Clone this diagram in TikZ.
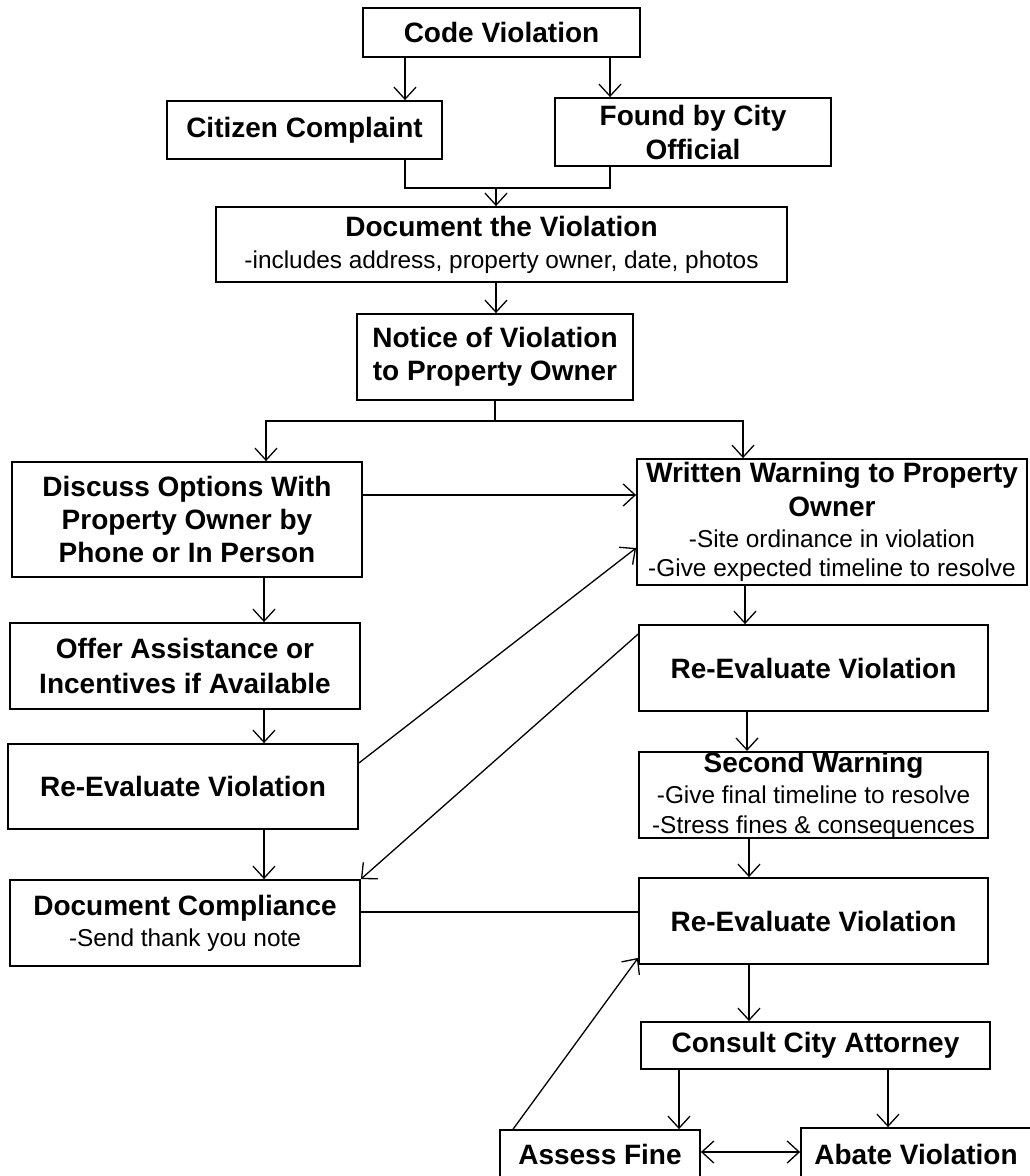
\documentclass[tikz,border=0pt]{standalone}
\usepackage{fontspec}
\setmainfont{Liberation Sans}
\usetikzlibrary{arrows.meta,calc}
\newcommand\bt{\fontsize{28}{34}\selectfont\bfseries}
\newcommand\rt{\fontsize{24.4}{28}\selectfont\mdseries}
\begin{document}
\begin{tikzpicture}[x=1pt,y=-1pt,
  box/.style={draw, line width=1.8pt, fill=white, inner sep=0pt, align=center, font=\bt},
  conn/.style={line width=1.3pt},
  arr/.style={line width=1.3pt, -{Straight Barb[length=12pt,width=22pt]}},
  dbl/.style={line width=1.3pt, {Straight Barb[length=12pt,width=22pt]}-{Straight Barb[length=12pt,width=22pt]}}]
\useasboundingbox (0,0) rectangle (1030,1176);
\clip (0,0) rectangle (1030,1176);
\fill[white] (0,0) rectangle (1030,1176);

\node[box, minimum width=277pt, minimum height=49pt] (cv) at (501.5,32.5) {Code Violation};
\node[box, minimum width=275pt, minimum height=58pt] (cc) at (304.5,130) {Citizen Complaint};
\node[box, minimum width=276pt, minimum height=68pt] (fo) at (693,132) {Found by City\\[0pt]Official};
\node[box, minimum width=571pt, minimum height=75pt] (dv) at (501.5,244.5) {Document the Violation\\[-2pt]{\rt -includes address, property owner, date, photos}};
\node[box, minimum width=276pt, minimum height=86pt] (nv) at (495,357) {Notice of Violation\\[-1pt]to Property Owner};
\node[box, minimum width=350pt, minimum height=115pt] (dis) at (187,519.5) {Discuss Options With\\[-1pt]Property Owner by\\[-1pt]Phone or In Person};
\node[box, minimum width=390pt, minimum height=126pt] (ww) at (832,522) {Written Warning to Property\\[0pt]Owner\\[-3pt]{\rt -Site ordinance in violation}\\[-5pt]{\rt -Give expected timeline to resolve}};
\node[box, minimum width=350pt, minimum height=86pt] (oa) at (185,666) {Offer Assistance or\\[1pt]Incentives if Available};
\node[box, minimum width=350pt, minimum height=85pt] (re1) at (183,786.5) {Re-Evaluate Violation};
\node[box, minimum width=350pt, minimum height=86pt] (dc) at (185,923) {Document Compliance\\[-3pt]{\rt -Send thank you note}};
\node[box, minimum width=349pt, minimum height=86pt] (re2) at (813.5,668) {Re-Evaluate Violation};
\node[box, minimum width=349pt, minimum height=86pt] (sw) at (813.5,795) {Second Warning\\[-3pt]{\rt -Give final timeline to resolve}\\[-4pt]{\rt -Stress fines \& consequences}};
\node[box, minimum width=349pt, minimum height=86pt] (re3) at (813.5,921) {Re-Evaluate Violation};
\node[box, minimum width=349pt, minimum height=47pt] (ca) at (815.5,1045.5) {Consult City Attorney};
\node[box, minimum width=200pt, minimum height=48pt] (af) at (600,1154) {Assess Fine};
\node[box, minimum width=230pt, minimum height=52pt] (ab) at (916,1154) {Abate Violation};

\coordinate (ca1) at (405,0);
\coordinate (ca2) at (610,0);
\coordinate (m1) at (496,188);
\coordinate (m2) at (495,421);
\coordinate (ml) at (266,421);
\coordinate (mr) at (743,421);
\coordinate (lc) at (264,0);
\coordinate (rc1) at (745,0);
\coordinate (rc2) at (747,0);
\coordinate (rc3) at (749,0);
\coordinate (c1) at (679,0);
\coordinate (c2) at (888,0);

% top section
\draw[arr] (cv.south -| ca1) -- (cc.north -| ca1);
\draw[arr] (cv.south -| ca2) -- (fo.north -| ca2);
\draw[conn] (cc.south -| ca1) |- (m1) -| (fo.south -| ca2);
\draw[arr] (m1) -- (m1 |- dv.north);
\draw[arr] (dv.south -| m1) -- (nv.north -| m1);
\draw[conn] (nv.south -| m2) -- (m2);
\draw[arr] (m2) -| (dis.north -| ml);
\draw[arr] (m2) -| (ww.north -| mr);

% left column
\draw[arr] ([yshift=24.5pt]dis.east) -- ([yshift=24.5pt]dis.east -| ww.west);
\draw[arr] (dis.south -| lc) -- (oa.north -| lc);
\draw[arr] (oa.south -| lc) -- (re1.north -| lc);
\draw[arr] (re1.south -| lc) -- (dc.north -| lc);
\draw[arr] ([yshift=23.5pt]re1.east) -- ([yshift=-26pt]ww.west);

% right column
\draw[arr] (ww.south -| rc1) -- (re2.north -| rc1);
\draw[arr] ([yshift=-10pt]re2.north west) -- (dc.north east);
\draw[arr] (re2.south -| rc2) -- (sw.north -| rc2);
\draw[arr] (sw.south -| rc3) -- (re3.north -| rc3);
\draw[conn] ([yshift=11pt]dc.east) -- ([yshift=11pt]dc.east -| re3.west);
\draw[arr] (re3.south -| rc3) -- (ca.north -| rc3);

% bottom
\draw[arr] (ca.south -| c1) -- (af.north -| c1);
\draw[arr] (ca.south -| c2) -- (ab.north -| c2);
\draw[dbl] ([yshift=2pt]af.east) -- ([yshift=2pt]af.east -| ab.west);
\draw[arr] ([xshift=14pt]af.north west) -- ([yshift=7pt]re3.south west);
\end{tikzpicture}
\end{document}
